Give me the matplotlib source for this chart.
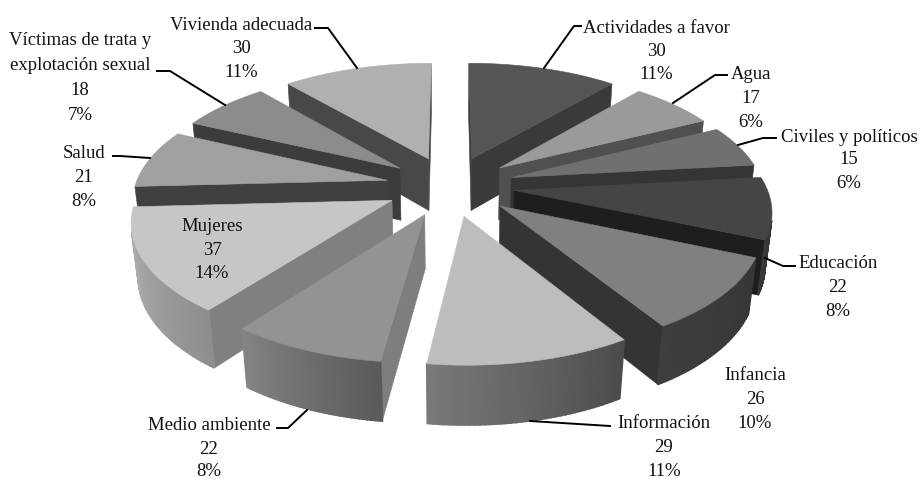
import numpy as np
import matplotlib
matplotlib.use("Agg")
import matplotlib.pyplot as plt

# ---- data ----
categories = ["Actividades a favor", "Agua", "Civiles y políticos", "Educación", "Infancia",
              "Información", "Medio ambiente", "Mujeres", "Salud",
              "Víctimas de trata y\nexplotación sexual", "Vivienda adecuada"]
values = [30, 17, 15, 22, 26, 29, 22, 37, 21, 18, 30]

# ---- styles: top, radial wall, rim start, rim end ----
top_colors = ["#555555", "#9a9a9a", "#707070", "#454545", "#808080", "#bdbdbd",
              "#939393", "#c6c6c6", "#a0a0a0", "#8c8c8c", "#b0b0b0"]
wall_colors = ["#3a3a3a", "#505050", "#353535", "#1e1e1e", "#343434", "#6a6a6a",
               "#7e7e7e", "#808080", "#404040", "#3c3c3c", "#484848"]
rim_start = ["#3a3a3a", "#505050", "#353535", "#303030", "#363636", "#4c4c4c",
             "#5a5a5a", "#8e8e8e", "#707070", "#606060", "#707070"]
rim_end = ["#3a3a3a", "#505050", "#353535", "#383838", "#3e3e3e", "#7a7a7a",
           "#848484", "#b6b6b6", "#909090", "#808080", "#909090"]

# ---- camera and layout ----
CX, CY, AX, BY, P, DEPTH, TILT, EXPLODE = 450, 186, 252, 117, 0.147, 54, 0.022, 0.256

label_layout = [  # centre x, first line y, line step
    (656, 28, 23), (751, 74, 24), (849, 137, 23), (838, 264, 24), (755, 376, 24), (664, 424, 24),
    (209, 426, 23), (212, 226, 24), (84, 153, 24), (80, 40, 25), (241, 25, 23.5)]
leaders = [
    [(544, 68), (574, 26), (581, 26)],
    [(673, 103), (715, 75), (727, 75)],
    [(738, 145), (763, 138), (776, 138)],
    [(765, 258), (783, 266), (795, 266)],
    None,
    [(530, 421), (610, 426)],
    [(307, 410), (288, 428), (277, 428)],
    None,
    [(150, 158), (120, 156), (113, 156)],
    [(225, 105), (170, 71), (157, 71)],
    [(357, 68), (328, 28), (315, 28)],
]

plt.rcParams["font.family"] = ["Liberation Serif", "DejaVu Serif"]
fig = plt.figure(figsize=(9.2, 4.79), dpi=100, facecolor="white")
ax = fig.add_axes([0, 0, 1, 1])
ax.set_xlim(0, 920)
ax.set_ylim(479, 0)
ax.axis("off")


def project(x, y, low):
    """Project a point of the pie (unit radius); low=1 is the underside."""
    w = 1 + P * y + TILT * low
    return CX + AX * x / w, CY + (-BY * y + DEPTH * low) / w


def area(pts):
    p = np.array(pts)
    return 0.5 * np.sum(p[:, 0] * np.roll(p[:, 1], -1) - np.roll(p[:, 0], -1) * p[:, 1])


def mix(c0, c1, t):
    a, b = np.array(matplotlib.colors.to_rgb(c0)), np.array(matplotlib.colors.to_rgb(c1))
    return tuple(a + (b - a) * t)


total = sum(values)
edges = np.cumsum([0] + values) / total * 2 * np.pi
order = sorted(range(len(values)), key=lambda i: -np.cos((edges[i] + edges[i + 1]) / 2))

for i in order:
    a0, a1 = edges[i], edges[i + 1]
    mid = (a0 + a1) / 2
    ox, oy = EXPLODE * np.sin(mid), EXPLODE * np.cos(mid)
    arc = np.linspace(a0, a1, 40)
    xs, ys = ox + np.sin(arc), oy + np.cos(arc)
    top = [project(ox, oy, 0)] + [project(x, y, 0) for x, y in zip(xs, ys)]
    low = [project(ox, oy, 1)] + [project(x, y, 1) for x, y in zip(xs, ys)]
    sign = np.sign(area(top))
    # radial walls
    for a_idx, b_idx in ((1, 0), (0, -1)):
        q = [top[a_idx], top[b_idx], low[b_idx], low[a_idx]]
        if np.sign(area(q)) == sign:
            ax.fill(*zip(*q), color=wall_colors[i], lw=0.4, zorder=1)
    # outer rim with a gradient along the arc
    for k in range(1, len(top) - 1):
        q = [top[k + 1], top[k], low[k], low[k + 1]]
        if np.sign(area(q)) == sign:
            c = mix(rim_start[i], rim_end[i], (k - 1) / (len(top) - 2))
            ax.fill(*zip(*q), color=c, lw=1.3, zorder=1)
    ax.fill(*zip(*top), color=top_colors[i], lw=0.4, zorder=1)

for i, name in enumerate(categories):
    cx, y0, step = label_layout[i]
    lines = name.split("\n") + [str(values[i]), f"{round(values[i] / total * 100)}%"]
    for n, s in enumerate(lines):
        ax.text(cx, y0 + n * step, s, ha="center", va="center", fontsize=13.5, color="#111111", zorder=3)
    if leaders[i]:
        ax.plot(*zip(*leaders[i]), color="black", lw=1.4, zorder=2, solid_joinstyle="miter")

fig.savefig("out.png", dpi=100, facecolor="white")
